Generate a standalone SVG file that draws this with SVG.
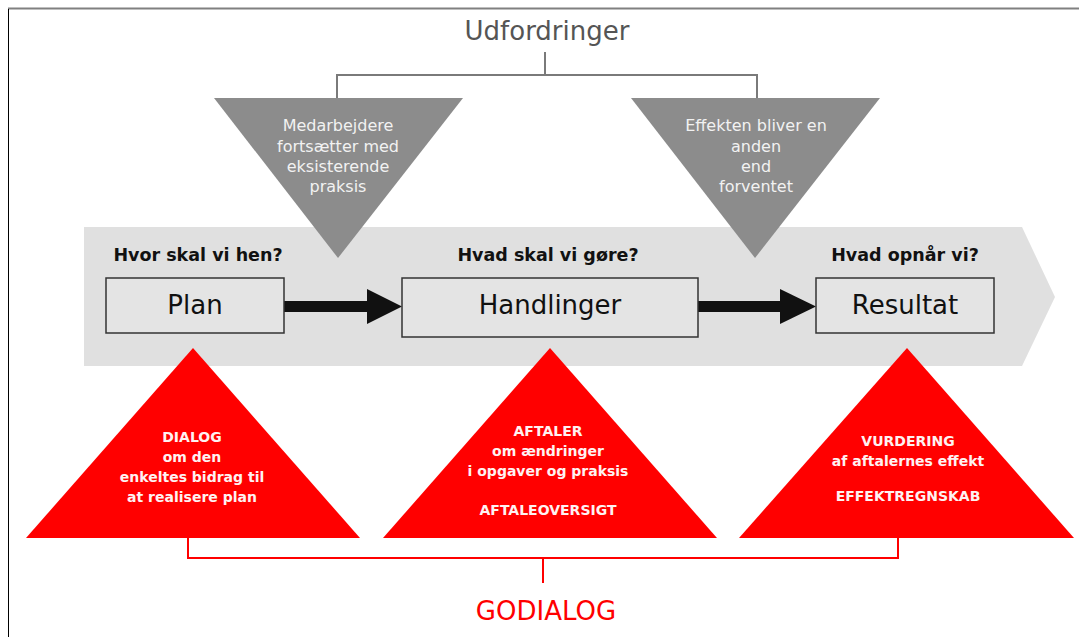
<svg xmlns="http://www.w3.org/2000/svg" width="1080" height="637" viewBox="0 0 1080 637">
<defs>
<style>
.title{font-family:"DejaVu Sans",Verdana,sans-serif;font-size:26px;text-anchor:middle}
.q{font-family:"DejaVu Sans",Verdana,sans-serif;font-size:17.5px;font-weight:bold;fill:#111;text-anchor:middle}
.box{fill:#e4e4e4;stroke:#333;stroke-width:1.5}
.boxt{font-family:"DejaVu Sans",Verdana,sans-serif;font-size:26px;fill:#111;text-anchor:middle}
.gt{font-family:"DejaVu Sans",Verdana,sans-serif;font-size:16px;fill:#f2f2f2;text-anchor:middle}
.rt{font-family:"DejaVu Sans",Verdana,sans-serif;font-size:14px;font-weight:bold;fill:#fff2f2;text-anchor:middle}
.gtri{fill:#8c8c8c}
.rtri{fill:#ff0000}
</style>
</defs>
<rect x="0" y="0" width="1080" height="637" fill="#fff"/>
<line x1="8" y1="8.5" x2="1079" y2="8.5" stroke="#808080" stroke-width="2"/>
<line x1="8.5" y1="9" x2="8.5" y2="637" stroke="#000" stroke-width="1"/>

<g id="band">
<polygon points="84,227 1022,227 1055,297 1022,366 84,366" fill="#e0e0e0"/>
</g>

<g id="connectors">
<polyline points="545,52 545,75" fill="none" stroke="#7a7a7a" stroke-width="2"/>
<polyline points="337,98 337,75 757,75 757,98" fill="none" stroke="#7a7a7a" stroke-width="2"/>
<polyline points="188,538 188,558 898,558 898,538" fill="none" stroke="#ff0000" stroke-width="2"/>
<line x1="543" y1="558" x2="543" y2="583" stroke="#ff0000" stroke-width="2"/>
<g id="arrow1" fill="#111">
<rect x="284" y="301" width="84" height="11"/>
<polygon points="367,289 402,306.5 367,324"/>
</g>
<g id="arrow2" fill="#111">
<rect x="698" y="301" width="83" height="11"/>
<polygon points="780,289 816,306.5 780,324"/>
</g>
</g>

<g id="udfordringer">
<text class="title" x="547" y="40" fill="#555">Udfordringer</text>
</g>

<g id="challenge1">
<polygon class="gtri" points="214,98 463,98 338,258"/>
<text class="gt" x="338" y="131">Medarbejdere</text>
<text class="gt" x="338" y="152">fortsætter med</text>
<text class="gt" x="338" y="172">eksisterende</text>
<text class="gt" x="338" y="192">praksis</text>
</g>

<g id="challenge2">
<polygon class="gtri" points="631,98 880,98 755,258"/>
<text class="gt" x="756" y="131">Effekten bliver en</text>
<text class="gt" x="756" y="152">anden</text>
<text class="gt" x="756" y="172">end</text>
<text class="gt" x="756" y="192">forventet</text>
</g>

<g id="q1"><text class="q" x="198" y="261">Hvor skal vi hen?</text></g>
<g id="q2"><text class="q" x="548" y="261">Hvad skal vi gøre?</text></g>
<g id="q3"><text class="q" x="905" y="261">Hvad opnår vi?</text></g>

<g id="plan">
<rect class="box" x="106" y="278" width="178" height="55"/>
<text class="boxt" x="195" y="314">Plan</text>
</g>
<g id="handlinger">
<rect class="box" x="402" y="278" width="296" height="59"/>
<text class="boxt" x="550" y="314">Handlinger</text>
</g>
<g id="resultat">
<rect class="box" x="816" y="278" width="178" height="55"/>
<text class="boxt" x="905" y="314">Resultat</text>
</g>

<g id="dialog">
<polygon class="rtri" points="193,348 360,538 26,538"/>
<text class="rt" x="192" y="442">DIALOG</text>
<text class="rt" x="192" y="462">om den</text>
<text class="rt" x="192" y="482">enkeltes bidrag til</text>
<text class="rt" x="192" y="502">at realisere plan</text>
</g>

<g id="aftaler">
<polygon class="rtri" points="550,348 717,538 383,538"/>
<text class="rt" x="548" y="436">AFTALER</text>
<text class="rt" x="548" y="456">om ændringer</text>
<text class="rt" x="548" y="476">i opgaver og praksis</text>
<text class="rt" x="548" y="515">AFTALEOVERSIGT</text>
</g>

<g id="vurdering">
<polygon class="rtri" points="907,348 1074,538 739,538"/>
<text class="rt" x="908" y="446">VURDERING</text>
<text class="rt" x="908" y="466">af aftalernes effekt</text>
<text class="rt" x="908" y="501">EFFEKTREGNSKAB</text>
</g>

<g id="godialog">
<text class="title" x="546" y="620" fill="#ff0000">GODIALOG</text>
</g>
</svg>
